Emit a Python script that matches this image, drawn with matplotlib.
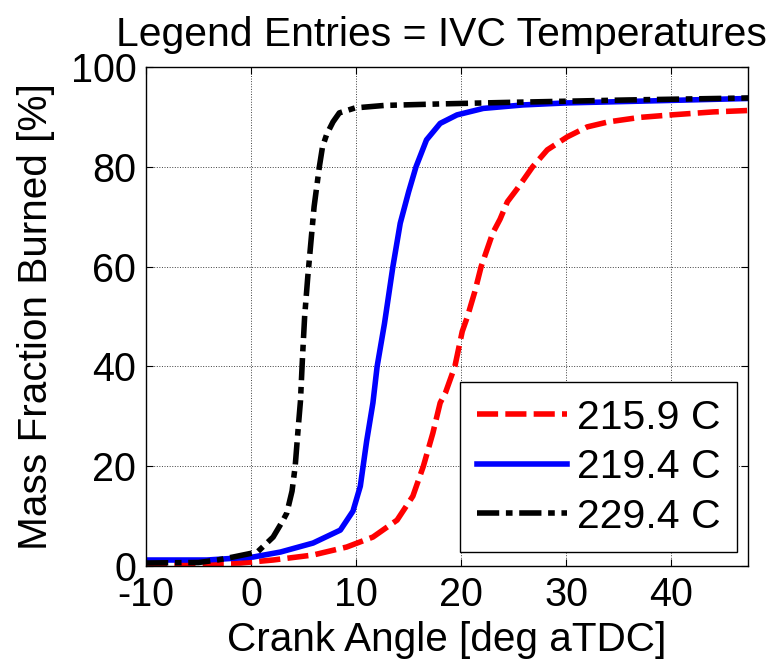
import matplotlib
matplotlib.use("Agg")
import matplotlib.pyplot as plt

plt.rcParams['font.family'] = ['Liberation Sans', 'DejaVu Sans']
plt.rcParams['axes.unicode_minus'] = False

# Series data (crank angle [deg aTDC], mass fraction burned [%])
x_2159 = [-10, -1, 2.1, 5.9, 9.1, 11.6, 13.9, 15.4, 16.4, 17.3, 18.0, 18.5, 19.4, 20.1,
          20.6, 21.3, 21.9, 23.0, 23.7, 24.4, 25.3, 26.8, 28.2, 30.1, 32.0, 34.0, 37.0,
          40.0, 44.0, 47.5]
y_2159 = [0.3, 0.6, 1.2, 2.2, 3.8, 5.8, 9.2, 14, 20, 26.6, 32.7, 34.7, 40, 47,
          50, 55, 60, 66.7, 69.5, 73.0, 75.5, 80, 83.4, 86, 88, 89, 89.9,
          90.4, 91.0, 91.3]

x_2194 = [-10, -4.2, 0.2, 2.8, 5.9, 8.5, 9.7, 10.4, 11.0, 11.6, 12.0, 12.7, 13.5, 14.2,
          15.0, 15.7, 16.7, 18.0, 19.6, 22.1, 25.9, 30.0, 36.0, 47.5]
y_2194 = [1.2, 1.2, 1.8, 2.8, 4.6, 7.2, 11, 16, 25, 32.7, 40, 48.6, 60, 68.7,
          75, 80, 85.4, 88.7, 90.4, 91.7, 92.4, 92.8, 93.1, 93.7]

x_2294 = [-10, -5, -3.2, -1.7, 0.6, 2.1, 3.0, 3.4, 3.9, 4.2, 4.5, 4.7, 4.9, 5.1,
          5.4, 5.7, 6.0, 6.5, 6.8, 7.2, 7.8, 8.4, 9.9, 12.7, 18.0, 24.3, 36.0, 47.5]
y_2294 = [0.6, 0.7, 1.2, 1.8, 2.8, 5.8, 9, 10.6, 15, 20, 28, 33, 42, 50,
          58, 65, 72, 80, 84, 86.5, 89, 90.8, 91.8, 92.3, 92.6, 92.9, 93.4, 93.8]

labels = ['215.9 C', '219.4 C', '229.4 C']
x_ticks = [-10, 0, 10, 20, 30, 40]
y_ticks = [0, 20, 40, 60, 80, 100]

FS_TICK = 28.5
FS_LABEL = 29.2
FS_TITLE = 29.4
FS_LEG = 29.5
fig = plt.figure(figsize=(7.75, 6.68), dpi=100)
ax = fig.add_axes([146/775, 102/668, 602/775, 499/668])

lw = 4.0
ax.plot(x_2159, y_2159, color='#ff0000', lw=lw, linestyle=(0, (3.8, 1.3)), label=labels[0])
ax.plot(x_2194, y_2194, color='#0000ff', lw=lw, linestyle='-', label=labels[1])
ax.plot(x_2294, y_2294, color='#000000', lw=lw, linestyle=(0, (4.0, 1.2, 1.2, 1.2)), label=labels[2])

ax.set_xlim(-10, 47.3)
ax.set_ylim(0, 100)
ax.set_xticks(x_ticks)
ax.set_yticks(y_ticks)
ax.tick_params(direction='in', top=True, right=True, length=5, width=0.8,
               labelsize=FS_TICK, pad=7)
ax.grid(True, linestyle=':', color='#404040', lw=0.7)
for s in ax.spines.values():
    s.set_linewidth(1.0)

ax.set_xlabel('Crank Angle [deg aTDC]', fontsize=FS_LABEL, labelpad=5)
ax.set_ylabel('Mass Fraction Burned [%]', fontsize=FS_LABEL, labelpad=11)
ax.set_title('Legend Entries = IVC Temperatures', fontsize=FS_TITLE, pad=15, x=0.49)

leg = ax.legend(loc='lower right', bbox_to_anchor=(0.982, 0.028), fontsize=FS_LEG,
                fancybox=False, edgecolor='black', framealpha=1,
                handlelength=2.2, handletextpad=0.25, labelspacing=0.28,
                borderpad=0.4, borderaxespad=0)
leg.get_frame().set_linewidth(1.0)

fig.savefig('out.png', dpi=100)
